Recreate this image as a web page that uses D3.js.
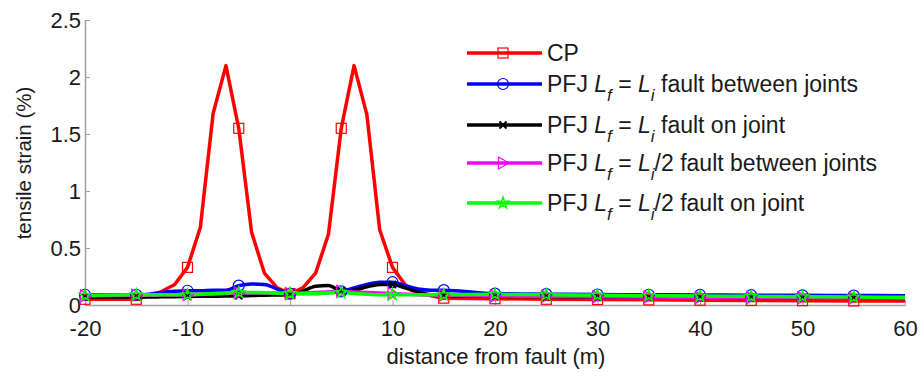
<!DOCTYPE html>
<html><head><meta charset="utf-8">
<script src="https://cdn.jsdelivr.net/npm/d3@7"></script>
<style>body{margin:0;background:#fff}svg{display:block;font-family:"Liberation Sans",Arial,sans-serif}</style>
</head><body><svg id="c" width="921" height="372"></svg>
<script>
const xs = [-20,-15,-13.75,-12.5,-11.25,-10,-8.75,-7.5,-6.25,-5,-3.75,-2.5,-1.25,0,1.25,2.5,3.75,5,6.25,7.5,8.75,10,11.25,12.5,13.75,15,20,25,30,35,40,45,50,55,60];
const cp      = [0.05,0.05,0.08,0.12,0.18,0.33,0.68,1.68,2.1,1.55,0.64,0.28,0.15,0.1,0.15,0.28,0.62,1.55,2.1,1.67,0.66,0.33,0.175,0.12,0.08,0.06,0.055,0.05,0.048,0.045,0.042,0.04,0.038,0.036,0.035];
const pfjBetween = [0.09,0.09,0.095,0.11,0.12,0.125,0.125,0.13,0.13,0.17,0.185,0.18,0.14,0.1,0.1,0.1,0.11,0.12,0.15,0.18,0.2,0.2,0.17,0.14,0.13,0.13,0.1,0.095,0.092,0.09,0.088,0.086,0.085,0.083,0.082];
const pfjOn      = [0.07,0.07,0.07,0.072,0.073,0.075,0.076,0.077,0.078,0.08,0.083,0.086,0.088,0.09,0.12,0.165,0.17,0.125,0.13,0.16,0.18,0.18,0.15,0.11,0.09,0.08,0.075,0.072,0.07,0.068,0.066,0.064,0.062,0.06,0.058];
const pfjHalfBetween = [0.08,0.085,0.085,0.087,0.088,0.09,0.092,0.095,0.1,0.105,0.105,0.105,0.102,0.1,0.105,0.11,0.115,0.12,0.115,0.11,0.105,0.1,0.095,0.09,0.088,0.085,0.08,0.075,0.072,0.07,0.067,0.065,0.063,0.061,0.06];
const pfjHalfOn  = [0.085,0.09,0.09,0.09,0.09,0.09,0.095,0.1,0.105,0.11,0.11,0.108,0.104,0.1,0.1,0.1,0.105,0.11,0.1,0.095,0.09,0.09,0.09,0.09,0.09,0.09,0.094,0.09,0.086,0.082,0.079,0.076,0.073,0.07,0.068];
const xTicks = [-20,-10,0,10,20,30,40,50,60];
const yTicks = [0,0.5,1,1.5,2,2.5];
const legendLabels = ["CP"," fault between joints"," fault on joint","/2 fault between joints","/2 fault on joint"];

const svg = d3.select("#c");
const x = d3.scaleLinear().domain([-20,60]).range([85,905]);
const y = d3.scaleLinear().domain([0,2.5]).range([305,20]);
const axisCol = "#a0a0a0";
const txtCol = "#1a1a1a";

const gx = svg.append("g").attr("transform","translate(0,305)")
  .call(d3.axisBottom(x).tickValues(xTicks).tickSizeInner(-5).tickSizeOuter(0).tickFormat(d=>String(d)));
const gy = svg.append("g").attr("transform","translate(85,0)")
  .call(d3.axisLeft(y).tickValues(yTicks).tickSizeInner(-5).tickSizeOuter(0).tickFormat(d=>String(d)));
[gx,gy].forEach(g=>{
  g.select(".domain").attr("stroke",axisCol).attr("stroke-width",1.5);
  g.selectAll(".tick line").attr("stroke",axisCol);
  g.selectAll("text").attr("font-size",22).attr("fill",txtCol).attr("font-family","Liberation Sans, Arial, sans-serif");
});
gx.selectAll("text").attr("y",31).attr("dy",0);
gy.selectAll("text").attr("x",-4).attr("dy","0.36em");

svg.append("text").attr("x",496).attr("y",364).attr("text-anchor","middle").attr("font-size",22).attr("fill",txtCol).text("distance from fault (m)");
svg.append("text").attr("transform","translate(31,163) rotate(-90)").attr("text-anchor","middle").attr("font-size",20.5).attr("fill",txtCol).text("tensile strain (%)");

function marker(g, type, color, cx, cy){
  if(type==="square"){
    g.append("rect").attr("x",cx-5).attr("y",cy-5).attr("width",10).attr("height",10).attr("fill","none").attr("stroke",color).attr("stroke-width",1.2);
  } else if(type==="circle"){
    g.append("circle").attr("cx",cx).attr("cy",cy).attr("r",5.5).attr("fill","none").attr("stroke",color).attr("stroke-width",1.2);
  } else if(type==="x"){
    g.append("path").attr("d",`M${cx-3.5},${cy-3.5}L${cx+3.5},${cy+3.5}M${cx-3.5},${cy+3.5}L${cx+3.5},${cy-3.5}`).attr("stroke",color).attr("stroke-width",2);
  } else if(type==="tri"){
    g.append("path").attr("d",`M${cx-4.5},${cy-6}L${cx+6},${cy}L${cx-4.5},${cy+6}Z`).attr("fill","none").attr("stroke",color).attr("stroke-width",1.2);
  } else if(type==="star"){
    g.append("path").attr("transform",`translate(${cx},${cy})`).attr("d",d3.symbol(d3.symbolStar,40)()).attr("fill","none").attr("stroke",color).attr("stroke-width",1.4);
  }
}

const series = [
  {vals:cp, color:"#ff0000", m:"square", curve:d3.curveLinear},
  {vals:pfjBetween, color:"#0000ff", m:"circle", curve:d3.curveMonotoneX},
  {vals:pfjOn, color:"#000000", m:"x", curve:d3.curveMonotoneX},
  {vals:pfjHalfBetween, color:"#ff00ff", m:"tri", curve:d3.curveMonotoneX},
  {vals:pfjHalfOn, color:"#00ff00", m:"star", curve:d3.curveMonotoneX}
];
const plot = svg.append("g");
series.forEach(s=>{
  const data = xs.map((v,i)=>[v,s.vals[i]]);
  plot.append("path").attr("d",d3.line().x(d=>x(d[0])).y(d=>y(d[1])).curve(s.curve)(data))
    .attr("fill","none").attr("stroke",s.color).attr("stroke-width",3.5).attr("stroke-linejoin","round");
});
series.forEach(s=>{
  const g = plot.append("g");
  xs.forEach((v,i)=>{ if(v%5===0 && v<60) marker(g,s.m,s.color,x(v),y(s.vals[i])); });
});

// legend
const leg = svg.append("g");
const rowY = [53,84,125,163,203];
function legText(t, yy, isCP){
  const el = leg.append("text").attr("x",547).attr("y",yy+8).attr("font-size",23).attr("fill",txtCol);
  if(isCP){ el.text(t); return; }
  el.append("tspan").text("PFJ ");
  el.append("tspan").attr("font-style","italic").text("L");
  el.append("tspan").attr("font-style","italic").attr("font-size",17).attr("dy",9).text("f");
  el.append("tspan").attr("dy",-9).text(" = ");
  el.append("tspan").attr("font-style","italic").text("L");
  el.append("tspan").attr("font-style","italic").attr("font-size",17).attr("dy",9).text("i");
  el.append("tspan").attr("dy",-9).text(t);
}
series.forEach((s,i)=>{
  const yy = rowY[i];
  leg.append("line").attr("x1",467).attr("x2",542).attr("y1",yy).attr("y2",yy).attr("stroke",s.color).attr("stroke-width",3.5);
  marker(leg,s.m,s.color,503,yy);
  legText(legendLabels[i], yy, i===0);
});
</script></body></html>
